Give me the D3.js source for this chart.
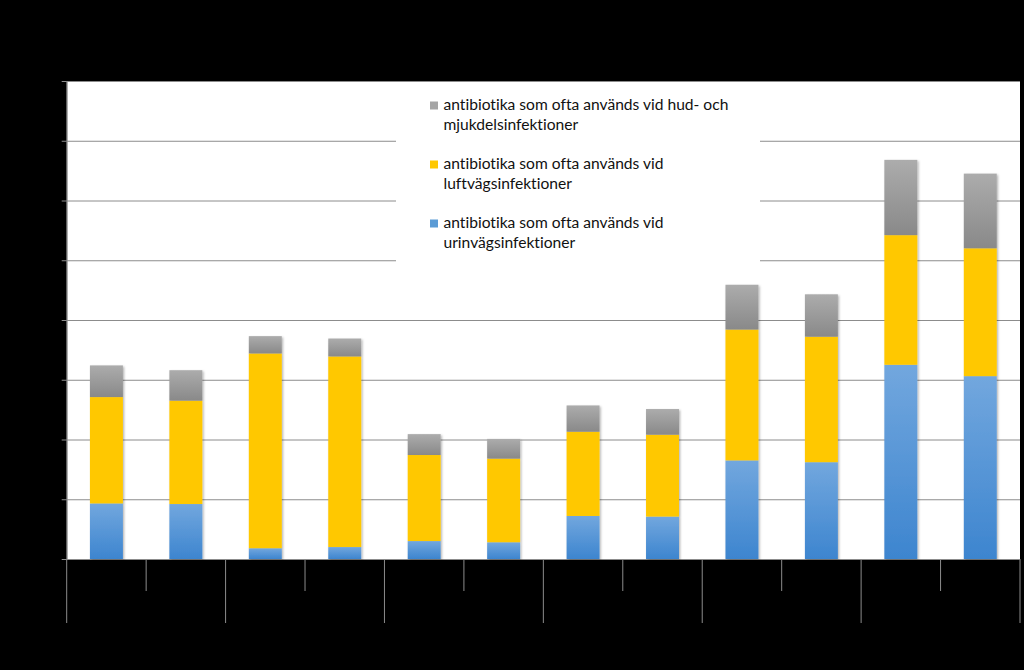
<!DOCTYPE html>
<html><head><meta charset="utf-8">
<script src="https://cdn.jsdelivr.net/npm/d3@7"></script>
<style>html,body{margin:0;padding:0;background:#000;}svg{display:block;}text{font-variant-ligatures:none;font-feature-settings:"liga" 0,"dlig" 0;}</style>
</head><body>
<svg id="chart" width="1024" height="670"></svg>
<script>
// ---- data ----
const categories = ["1a","1b","2a","2b","3a","3b","4a","4b","5a","5b","6a","6b"];
const urinvag = [0.93,0.92,0.18,0.20,0.30,0.28,0.72,0.71,1.65,1.62,3.25,3.06];
const luftvag = [1.78,1.73,3.26,3.19,1.44,1.40,1.41,1.37,2.19,2.10,2.17,2.14];
const hudMjuk = [0.53,0.51,0.29,0.30,0.35,0.33,0.44,0.43,0.75,0.71,1.26,1.25];
const yTicks = [0,1,2,3,4,5,6,7,8];
const legendLines = [
  ["antibiotika som ofta används vid hud- och","mjukdelsinfektioner"],
  ["antibiotika som ofta används vid","luftvägsinfektioner"],
  ["antibiotika som ofta används vid","urinvägsinfektioner"]
];

const svg = d3.select("#chart");
const W = 1024, H = 670;
const plot = {left:66.7, right:1020, top:81, bottom:559};

svg.append("rect").attr("width",W).attr("height",H).attr("fill","#000");

const defs = svg.append("defs");
function grad(id, c1, c2){
  const g = defs.append("linearGradient").attr("id",id).attr("x1",0).attr("y1",0).attr("x2",0).attr("y2",1);
  g.append("stop").attr("offset","0%").attr("stop-color",c1);
  g.append("stop").attr("offset","100%").attr("stop-color",c2);
}
grad("gBlue","#72a7de","#3d85cf");
grad("gYellow","#ffc800","#ffc800");
grad("gGrey","#acacac","#898989");
const f = defs.append("filter").attr("id","shadow").attr("x","-20%").attr("y","-20%").attr("width","150%").attr("height","150%");
f.append("feDropShadow").attr("dx",1.2).attr("dy",1.2).attr("stdDeviation",1.3).attr("flood-color","#000").attr("flood-opacity",0.3);

const x = d3.scaleBand().domain(categories).range([plot.left, plot.right]).padding(0);
const y = d3.scaleLinear().domain([0,8]).range([plot.bottom, plot.top]);

// plot area
svg.append("rect").attr("x",plot.left).attr("y",plot.top)
  .attr("width",plot.right-plot.left).attr("height",plot.bottom-plot.top).attr("fill","#fff");

// gridlines
const grid = svg.append("g").attr("transform",`translate(${plot.left},0)`)
  .call(d3.axisLeft(y).tickValues(yTicks).tickSize(-(plot.right-plot.left)).tickFormat(""));
grid.select(".domain").remove();
grid.selectAll("line").attr("stroke","#8c8c8c").attr("stroke-width",1);

// y axis ticks (outside)
const yAx = svg.append("g").attr("transform",`translate(${plot.left},0)`)
  .call(d3.axisLeft(y).tickValues(yTicks).tickSize(5).tickSizeOuter(0).tickFormat(""));
yAx.select(".domain").attr("stroke","#8c8c8c");
yAx.selectAll("line").attr("stroke","#8c8c8c");

// stacked data
const rows = categories.map((c,i)=>({cat:c, u:urinvag[i], l:luftvag[i], h:hudMjuk[i]}));
const stacked = d3.stack().keys(["u","l","h"])(rows);
const fills = {u:"url(#gBlue)", l:"url(#gYellow)", h:"url(#gGrey)"};

const bw = x.bandwidth()*0.415;
const barsG = svg.append("g").attr("filter","url(#shadow)");
stacked.forEach(s=>{
  barsG.selectAll(null).data(s).enter().append("rect")
    .attr("x", d=>x(d.data.cat)+(x.bandwidth()-bw)/2)
    .attr("y", d=>y(d[1]))
    .attr("width", bw)
    .attr("height", d=>y(d[0])-y(d[1]))
    .attr("fill", fills[s.key]);
});

// legend
const lg = svg.append("g");
lg.append("rect").attr("x",396).attr("y",87).attr("width",364).attr("height",178).attr("fill","#fff");
const legColors = ["#a5a5a5","#ffc800","#5b9bd5"];
legendLines.forEach((lines,i)=>{
  const by = 110 + i*59;
  lg.append("rect").attr("x",430).attr("y",by-8.5).attr("width",8).attr("height",8).attr("fill",legColors[i]);
  lines.forEach((t,j)=>{
    lg.append("text").attr("x",443.5).attr("y",by+j*20)
      .attr("font-family","Lato, 'Open Sans', sans-serif").attr("font-size",15.6)
      .attr("fill","#111").text(t);
  });
});

// x axis category ticks (two-level)
const bounds = categories.map(c=>x(c)).concat([plot.right]);
svg.append("g").selectAll("line").data(bounds).enter().append("line")
  .attr("x1",d=>d).attr("x2",d=>d)
  .attr("y1",plot.bottom)
  .attr("y2",(d,i)=> (i%2===0) ? 623 : 591)
  .attr("stroke","#8c8c8c").attr("stroke-width",1);
</script>
</body></html>
